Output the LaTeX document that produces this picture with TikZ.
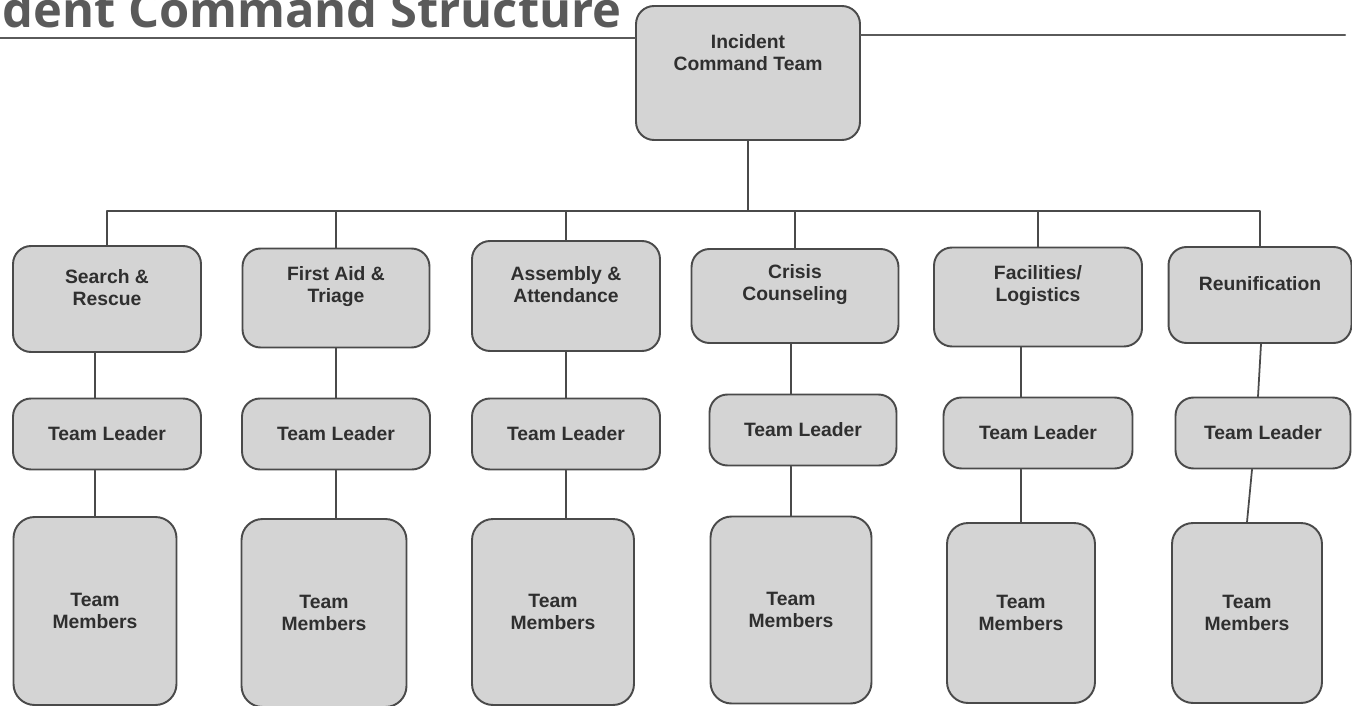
\documentclass[tikz,border=0pt]{standalone}
\usepackage{fontspec}
\setmainfont{Liberation Sans}
\newfontfamily\titlefont{Open Sans}
\usepackage{xcolor}
\usepackage{tikz}
\usetikzlibrary{calc,positioning}
\definecolor{boxfill}{HTML}{D4D4D4}
\definecolor{boxline}{HTML}{4A4A4A}
\definecolor{txtgray}{HTML}{2F2F2F}
\definecolor{titlegray}{HTML}{5A5A5A}
\tikzset{
  orgbox/.style={draw=boxline, fill=boxfill, line width=1.1pt, rounded corners=0.36cm, inner sep=2pt},
  lbl/.style={font=\bfseries\fontsize{11}{12.5}\selectfont, text=txtgray, align=center},
  link/.style={draw=boxline, line width=1pt},
  rule/.style={draw=titlegray, line width=1.2pt},
  every picture/.style={line cap=round, line join=round}
}

\begin{document}
\begin{tikzpicture}[x=0.02cm, y=-0.02cm]
  \useasboundingbox (0,0) rectangle (1352,706);
  \fill[white] (0,0) rectangle (1352,706);

  % title
  \node[anchor=base west, inner sep=0pt, text=titlegray,
        font=\titlefont\bfseries\fontsize{27.8}{30}\selectfont] (title) at (2,28) {dent Command Structure};

  % top
  \node[orgbox, minimum width=4.48cm, minimum height=2.68cm,
        label={[lbl, yshift=11.4pt]center:{Incident\\Command Team}}] (ict) at (748,73) {};

  % divisions
  \node[orgbox, minimum width=3.76cm, minimum height=2.12cm,
        label={[lbl, yshift=6.5pt]center:{Search \&\\Rescue}}] (sr) at (107,299) {};
  \node[orgbox, minimum width=3.74cm, minimum height=1.98cm,
        label={[lbl, yshift=6.5pt]center:{First Aid \&\\Triage}}] (fa) at (336,298) {};
  \node[orgbox, minimum width=3.76cm, minimum height=2.2cm,
        label={[lbl, yshift=6.5pt]center:{Assembly \&\\Attendance}}] (as) at (566,296) {};
  \node[orgbox, minimum width=4.14cm, minimum height=1.88cm,
        label={[lbl, yshift=6.5pt]center:{Crisis\\Counseling}}] (cc) at (795,296) {};
  \node[orgbox, minimum width=4.16cm, minimum height=1.98cm,
        label={[lbl, yshift=6.5pt]center:{Facilities/\\Logistics}}] (fl) at (1038,297) {};
  \node[orgbox, minimum width=3.66cm, minimum height=1.92cm,
        label={[lbl, yshift=6.5pt]center:{Reunification}}] (ru) at (1260,295) {};

  % team leaders
  \node[orgbox, lbl, minimum width=3.76cm, minimum height=1.42cm] (tl1) at (107,434) {Team Leader};
  \node[orgbox, lbl, minimum width=3.76cm, minimum height=1.42cm] (tl2) at (336,434) {Team Leader};
  \node[orgbox, lbl, minimum width=3.76cm, minimum height=1.42cm] (tl3) at (566,434) {Team Leader};
  \node[orgbox, lbl, minimum width=3.74cm, minimum height=1.42cm] (tl4) at (803,430) {Team Leader};
  \node[orgbox, lbl, minimum width=3.78cm, minimum height=1.42cm] (tl5) at (1038,433) {Team Leader};
  \node[orgbox, lbl, minimum width=3.5cm, minimum height=1.42cm] (tl6) at (1263,433) {Team Leader};

  % team members
  \node[orgbox, lbl, rounded corners=0.42cm, minimum width=3.26cm, minimum height=3.76cm] (tm1) at (95,611) {Team\\Members};
  \node[orgbox, lbl, rounded corners=0.42cm, minimum width=3.3cm, minimum height=3.76cm] (tm2) at (324,613) {Team\\Members};
  \node[orgbox, lbl, rounded corners=0.42cm, minimum width=3.24cm, minimum height=3.72cm] (tm3) at (553,612) {Team\\Members};
  \node[orgbox, lbl, rounded corners=0.42cm, minimum width=3.22cm, minimum height=3.74cm] (tm4) at (791,610) {Team\\Members};
  \node[orgbox, lbl, rounded corners=0.42cm, minimum width=2.96cm, minimum height=3.6cm] (tm5) at (1021,613) {Team\\Members};
  \node[orgbox, lbl, rounded corners=0.42cm, minimum width=3.0cm, minimum height=3.6cm] (tm6) at (1247,613) {Team\\Members};

  % title rules
  \coordinate (rl) at (0,38);
  \coordinate (rr) at (1345,35);
  \draw[rule] (rl) -- (rl -| ict.west);
  \draw[rule] (ict.east |- rr) -- (rr);

  % bus
  \coordinate (bus) at (0,211);
  \draw[link] (ict.south) -- (ict.south |- bus);
  \draw[link] (sr.north) |- (ru.north |- bus) -- (ru.north);
  \foreach \n in {fa,as,cc,fl}
    \draw[link] (\n.north) -- (\n.north |- bus);

  % division to leader to members
  \draw[link] (sr.south -| tm1.north) -- (tl1.north -| tm1.north);
  \draw[link] (tl1.south -| tm1.north) -- (tm1.north);
  \draw[link] (fa.south) -- (tl2.north);
  \draw[link] (tl2.south) -- (tl2.south |- tm2.north);
  \draw[link] (as.south) -- (tl3.north);
  \draw[link] (tl3.south) -- (tl3.south |- tm3.north);
  \draw[link] (cc.south -| tm4.north) -- (tl4.north -| tm4.north);
  \draw[link] (tl4.south -| tm4.north) -- (tm4.north);
  \draw[link] (fl.south -| tm5.north) -- (tl5.north -| tm5.north);
  \draw[link] (tl5.south -| tm5.north) -- (tm5.north);
  \draw[link] ($(ru.south)+(1,0)$) -- ($(tl6.north)+(-5,0)$);
  \draw[link] ($(tl6.south)+(-11,0)$) -- (tm6.north);
\end{tikzpicture}
\end{document}
